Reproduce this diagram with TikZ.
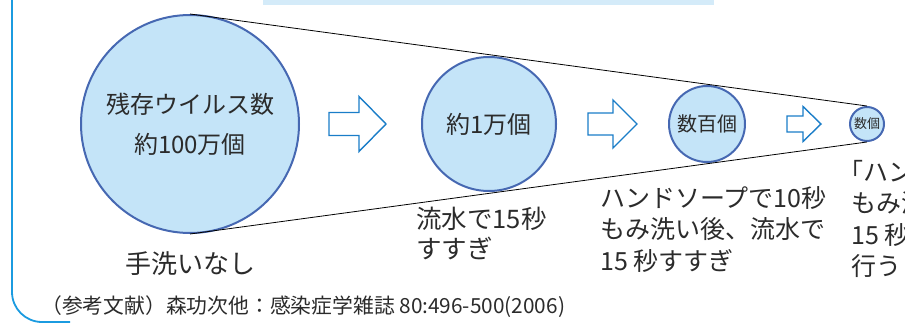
\documentclass[tikz,border=0pt]{standalone}
\usepackage{fontspec}
\setmainfont{Noto Sans CJK JP}
\usetikzlibrary{positioning}
\definecolor{azulmarco}{HTML}{1B9BE0}
\definecolor{azulbarra}{HTML}{D4EBF9}
\definecolor{azulcirc}{HTML}{C4E4F8}
\definecolor{bordecirc}{HTML}{4668B2}
\definecolor{azulflecha}{HTML}{1A7DC8}
\definecolor{texto}{HTML}{2B2B2B}
\tikzset{
  circulo/.style={circle,draw=bordecirc,fill=azulcirc,line width=2pt,inner sep=0pt,text=texto},
  flecha/.style={draw=azulflecha,fill=white,line width=1.4pt,line join=miter},
  etiqueta/.style={anchor=north west,align=left,text=texto,inner sep=0pt}
}
\begin{document}
\begin{tikzpicture}[x=1pt,y=-1pt]
  \useasboundingbox (0,0) rectangle (905,324);
  \clip (0,0) rectangle (905,324);
  %marco
  \fill[azulbarra] (263,0) rectangle (714,4.5);
  \draw[azulmarco,line width=1.8pt,rounded corners=30pt] (12,-5) -- (12,322) -- (70,322);
  %%%% CIRCULOS
  \node[circulo,minimum size=218pt,align=center,font=\fontsize{24}{40}\selectfont] at (190,124) (c1) {残存ウイルス数\\約100万個};
  \node[circulo,minimum size=134pt,font=\fontsize{24}{28}\selectfont] at (489,124) (c2) {約1万個};
  \node[circulo,minimum size=76pt,font=\fontsize{20}{24}\selectfont] at (707,124) (c3) {数百個};
  \node[circulo,minimum size=34pt,font=\fontsize{13}{15}\selectfont] at (867,124) (c4) {数個};
  %%%LINEAS
  \draw[line width=0.8pt] (c1.north) -- (c4.north);
  \draw[line width=0.8pt] (c1.south) -- (c4.south);
  %%%FLECHAS
  \foreach \a/\b/\c/\s/\h in {329/359/386/11.5/27.5, 588/613/637/11/24, 787/803/821/8/17.5}
    \draw[flecha] (\a,124-\s) -- (\b,124-\s) -- (\b,124-\h) -- (\c,124) -- (\b,124+\h) -- (\b,124+\s) -- (\a,124+\s) -- cycle;
  %%%TEXTOS
  \node[anchor=north,text=texto,inner sep=0pt,font=\fontsize{26}{30}\selectfont] at (190,251) (e1) {手洗いなし};
  \node[etiqueta,font=\fontsize{25.5}{30}\selectfont] at (416,207) (e2) {流水で15秒\\すすぎ};
  \node[etiqueta,font=\fontsize{25}{31.5}\selectfont] at (600,186) (e3) {ハンドソープで10秒\\もみ洗い後、流水で\\15 秒すすぎ};
  \node[etiqueta,font=\fontsize{25}{31.5}\selectfont] at (851,160) (e4) {{\addfontfeatures{RawFeature=+halt}「}ハンド\\もみ洗\\15 秒す\\行う};
  \node[anchor=west,text=texto,inner sep=0pt,font=\fontsize{20.8}{24}\selectfont] at (41,307) (ref) {（参考文献）森功次他：感染症学雑誌 80:496-500(2006)};
\end{tikzpicture}
\end{document}
